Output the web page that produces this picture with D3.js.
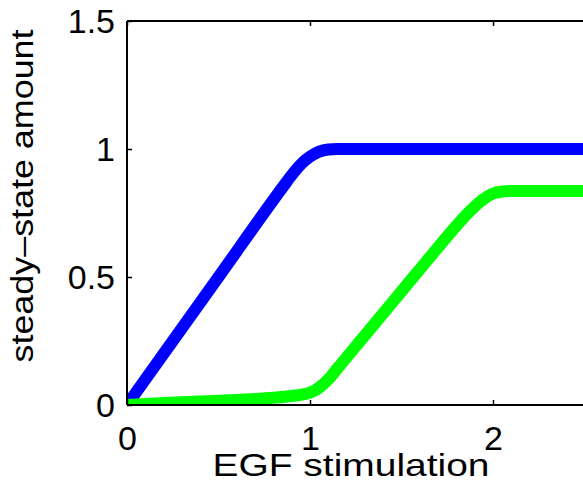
<!DOCTYPE html>
<html>
<head>
<meta charset="utf-8">
<script src="https://cdn.jsdelivr.net/npm/d3@7"></script>
<style>
  html, body { margin: 0; padding: 0; background: #fff; overflow: hidden; }
  svg { display: block; }
  text { font-family: "Liberation Sans", Arial, Helvetica, sans-serif; fill: #000; }
</style>
</head>
<body>
<svg id="chart" width="583" height="504"></svg>
<script>
// Steady-state response versus EGF stimulation
const blueX   = [0, 0.5, 0.85, 0.9, 0.95, 1.0, 1.05, 1.1, 1.15, 3];
const blueY   = [0, 0.5, 0.85, 0.898, 0.94, 0.97, 0.99, 0.998, 1.0, 1.0];

const greenX  = [0, 0.2, 0.4, 0.6, 0.8, 0.9, 1.0, 1.05, 1.1, 1.15, 1.22, 1.3, 1.4, 1.5, 1.6, 1.7, 1.8, 1.85, 1.9, 1.95, 2.0, 2.05, 2.1, 3];
const greenY  = [0, 0.008, 0.014, 0.02, 0.028, 0.035, 0.048, 0.068, 0.1, 0.143, 0.203, 0.272, 0.358, 0.444, 0.53, 0.616, 0.7, 0.74, 0.775, 0.805, 0.826, 0.834, 0.836, 0.836];

const xTicks = [0, 1, 2];
const yTicks = [0, 0.5, 1, 1.5];
const xTickLabels = ["0", "1", "2"];
const yTickLabels = ["0", "0.5", "1", "1.5"];

const svg = d3.select("#chart");
const plotLeft = 127, plotTop = 21, plotBottom = 405;
const unitX = 183;
const plotRight = plotLeft + unitX * 3;

const x = d3.scaleLinear().domain([0, 3]).range([plotLeft, plotRight]);
const y = d3.scaleLinear().domain([0, 1.5]).range([plotBottom, plotTop]);

svg.append("defs").append("clipPath").attr("id", "plotArea")
  .append("rect").attr("x", plotLeft).attr("y", plotTop)
  .attr("width", plotRight - plotLeft).attr("height", plotBottom - plotTop);

const line = d3.line().x(d => x(d[0])).y(d => y(d[1])).curve(d3.curveMonotoneX);

const plot = svg.append("g").attr("clip-path", "url(#plotArea)");
plot.append("path")
  .datum(blueX.map((v, i) => [v, blueY[i]]))
  .attr("d", line).attr("fill", "none")
  .attr("stroke", "#0000ff").attr("stroke-width", 12).attr("stroke-linejoin", "round");
plot.append("path")
  .datum(greenX.map((v, i) => [v, greenY[i]]))
  .attr("d", line).attr("fill", "none")
  .attr("stroke", "#00ff00").attr("stroke-width", 12).attr("stroke-linejoin", "round");

// Axes box with inward ticks
const axisBottom = d3.axisBottom(x).tickValues(xTicks).tickSize(-5).tickFormat((d, i) => xTickLabels[i]);
const axisLeft = d3.axisLeft(y).tickValues(yTicks).tickSize(-5).tickFormat((d, i) => yTickLabels[i]);
const axisTop = d3.axisTop(x).tickValues(xTicks).tickSize(-5).tickFormat("");

const gx = svg.append("g").attr("transform", `translate(0,${plotBottom})`).call(axisBottom);
const gy = svg.append("g").attr("transform", `translate(${plotLeft},0)`).call(axisLeft);
const gt = svg.append("g").attr("transform", `translate(0,${plotTop})`).call(axisTop);

[gx, gy, gt].forEach(g => {
  g.select(".domain").attr("stroke", "#000").attr("stroke-width", 2).attr("fill", "none");
  g.selectAll(".tick line").attr("stroke", "#000").attr("stroke-width", 1.5);
  g.selectAll("text").style("font-size", "34px").attr("fill", "#000")
    .style("font-family", "'Liberation Sans', Arial, sans-serif");
});
gx.select(".domain").attr("d", `M${plotLeft},0H${plotRight}`);
gt.select(".domain").attr("d", `M${plotLeft},0H${plotRight}`);
gy.select(".domain").attr("d", `M0,${plotTop}V${plotBottom}`);
gx.selectAll(".tick text").attr("dy", "0.71em").attr("y", 21);
gy.selectAll(".tick text").attr("dy", "0.35em").attr("x", -12);

svg.append("text")
  .attr("x", 351).attr("y", 476)
  .attr("text-anchor", "middle")
  .style("font-size", "32px")
  .attr("textLength", 277).attr("lengthAdjust", "spacingAndGlyphs")
  .text("EGF stimulation");

svg.append("text")
  .attr("transform", "translate(33,196) rotate(-90)")
  .attr("text-anchor", "middle")
  .style("font-size", "32px")
  .attr("textLength", 333).attr("lengthAdjust", "spacingAndGlyphs")
  .text("steady–state amount");
</script>
</body>
</html>
